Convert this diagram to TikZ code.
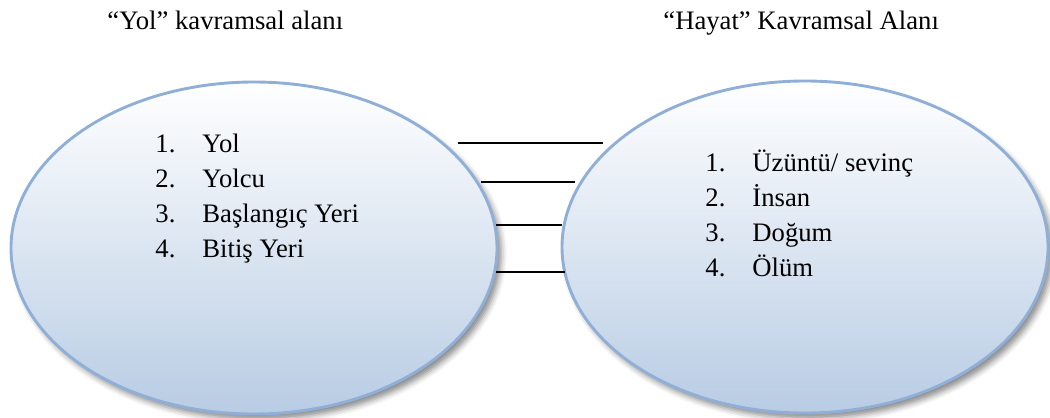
\documentclass[tikz,border=0pt]{standalone}
\usepackage{fontspec}
\setmainfont{Liberation Serif}
\usepackage{xcolor}
\usepackage{tikz}
\usetikzlibrary{shapes.geometric,shadows.blur}
\definecolor{rimblue}{HTML}{8FAFD7}
\definecolor{fillblue}{HTML}{B8CCE4}
\tikzset{
  alan/.style={ellipse,draw=rimblue,line width=1.3pt,top color=white,bottom color=fillblue,
    minimum width=218.7pt,minimum height=149.4pt,inner sep=0pt,
    blur shadow={shadow xshift=2pt,shadow yshift=-2.5pt,shadow blur radius=2.5pt,shadow opacity=45}},
  baslik/.style={anchor=base west,inner sep=0pt,font=\fontsize{12}{14}\selectfont},
  liste/.style={anchor=base west,inner sep=0pt,font=\fontsize{12}{15.75}\selectfont},
  bag/.style={line width=0.7pt,black}
}

\begin{document}
\begin{tikzpicture}[x=0.45pt,y=-0.45pt]
\useasboundingbox (0,0) rectangle (1050,417);
% iki kavramsal alan
\node[alan] (yol) at (254,248) {};
\node[alan] (hayat) at (805,247) {};
\node[baslik] (yolbaslik) at (107,29) {``Yol'' kavramsal alan\i};
\node[baslik] (hayatbaslik) at (663,29) {``Hayat'' Kavramsal Alan\i};
% listeler
\node[liste] (yolliste) at (155,152) {\begin{tabular}[t]{@{}p{21.15pt}@{}l@{}}
1. & Yol\\ 2. & Yolcu\\ 3. & Başlangıç Yeri\\ 4. & Bitiş Yeri\end{tabular}};
\node[liste] (hayatliste) at (705,171) {\begin{tabular}[t]{@{}p{21.15pt}@{}l@{}}
1. & Üzüntü/ sevinç\\ 2. & İnsan\\ 3. & Doğum\\ 4. & Ölüm\end{tabular}};
% eslemeler
\foreach \i/\y/\xa/\xb in {1/143/458/603,2/182/481/575,3/225/496/562,4/272/496/565}{
  \coordinate (sol\i) at (\xa,\y);
  \coordinate (sag\i) at (\xb,\y);
  \draw[bag] (sol\i) -- (sag\i);
}
\end{tikzpicture}
\end{document}
